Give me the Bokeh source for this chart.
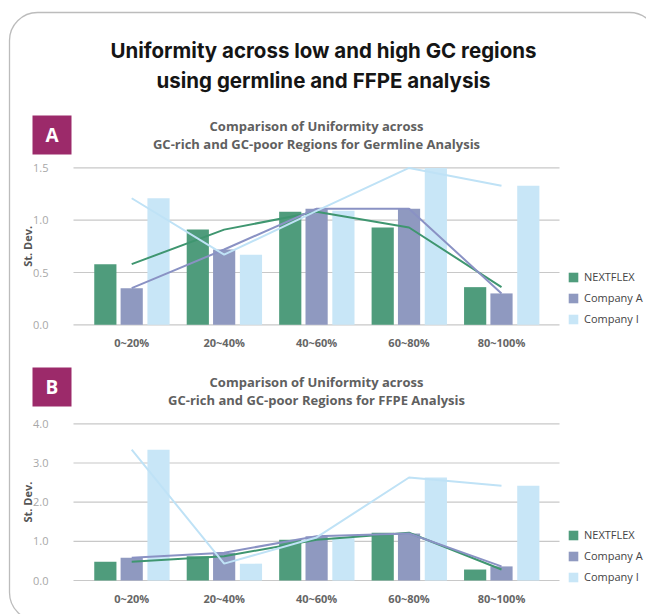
from bokeh.plotting import figure
from bokeh.models import (Range1d, LinearAxis, FixedTicker, Legend, LegendItem,
                          BoxAnnotation, NumeralTickFormatter)
from bokeh.core.properties import value
from bokeh.embed import file_html
from bokeh.resources import INLINE
import math

# ---------------- data ----------------
categories = ["0~20%", "20~40%", "40~60%", "60~80%", "80~100%"]
series_names = ["NEXTFLEX", "Company A", "Company I"]

germ_nextflex = [0.58, 0.91, 1.08, 0.93, 0.36]
germ_company_a = [0.35, 0.72, 1.11, 1.11, 0.30]
germ_company_i = [1.21, 0.67, 1.09, 1.50, 1.33]

ffpe_nextflex = [0.48, 0.62, 1.04, 1.22, 0.28]
ffpe_company_a = [0.58, 0.71, 1.13, 1.20, 0.36]
ffpe_company_i = [3.34, 0.43, 1.10, 2.63, 2.42]

germ_ticks = [0.0, 0.5, 1.0, 1.5]
ffpe_ticks = [0.0, 1.0, 2.0, 3.0, 4.0]

main_title = ["Uniformity across low and high GC regions",
              "using germline and FFPE analysis"]
sub_a = ["Comparison of Uniformity across",
         "GC-rich and GC-poor Regions for Germline Analysis"]
sub_b = ["Comparison of Uniformity across",
         "GC-rich and GC-poor Regions for FFPE Analysis"]
y_title = "St. Dev."

# ---------------- styles / layout ----------------
W, H = 646, 614
BAR_COLORS = ["#4f9c7c", "#8f99c0", "#c8e6f7"]
LINE_COLORS = ["#3f9670", "#8a92c4", "#bfe2f6"]
MAGENTA = "#9c2a6a"
FONT = "Open Sans"

CAT0, STEP = 131.2, 92.45          # px of first category centre, px per category
A_ZERO, A_UNIT = 324.3, 104.6      # chart A: px of 0, px per unit
B_ZERO, B_UNIT = 580.0, 39.17      # chart B
GRID_L, GRID_R = 73.0, 559.0
OFFSETS = [-0.285, 0.0, 0.29]
BAR_W = 0.24

p = figure(width=W, height=H, output_backend="svg", toolbar_location=None,
           x_range=Range1d(0, W), y_range=Range1d(0, H),
           x_axis_type=None, y_axis_type=None, min_border=0,
           outline_line_color=None, background_fill_color="white",
           border_fill_color="white")

p.extra_x_ranges = {"cx": Range1d(-CAT0 / STEP, (W - CAT0) / STEP)}
p.extra_y_ranges = {
    "ya": Range1d(-(H - A_ZERO) / A_UNIT, A_ZERO / A_UNIT),
    "yb": Range1d(-(H - B_ZERO) / B_UNIT, B_ZERO / B_UNIT),
}

def Y(px):
    return H - px

# card border
card = BoxAnnotation(left=9, right=657, top=Y(12), bottom=Y(620),
                     fill_alpha=0, line_color="#222222", line_width=1.3,
                     border_radius=28)
p.add_layout(card)

# main title
p.text(x=[323, 323], y=[Y(50), Y(80)], text=main_title,
       text_align="center", text_baseline="middle",
       text_font=value("Inter"), text_font_size="20.5px",
       text_font_style="bold", text_color="#151515")


def chart(yname, unit, zero_px, ticks, vals, subtitle, label, box_top, sub_y, leg_y):
    # panel label
    p.quad(left=[32], right=[71], top=[Y(box_top)], bottom=[Y(box_top + 39)],
           fill_color=MAGENTA, line_color=None)
    p.text(x=[51.5], y=[Y(box_top + 19.5)], text=[label], text_align="center",
           text_baseline="middle", text_font=value(FONT), text_font_size="19px",
           text_font_style="bold", text_color="white")
    # subtitle
    p.text(x=[316, 316], y=[Y(sub_y), Y(sub_y + 18)], text=subtitle,
           text_align="center", text_baseline="middle", text_font=value(FONT),
           text_font_size="13px", text_font_style="bold", text_color="#606060")
    # grid
    gl = (GRID_L - CAT0) / STEP
    gr = (GRID_R - CAT0) / STEP
    p.segment(x0=[gl] * len(ticks), x1=[gr] * len(ticks), y0=ticks, y1=ticks,
              x_range_name="cx", y_range_name=yname,
              line_color="#c8c8c8", line_width=1.2)
    # y axis
    ya = LinearAxis(y_range_name=yname, fixed_location=54,
                    ticker=FixedTicker(ticks=ticks),
                    formatter=NumeralTickFormatter(format="0.0"),
                    axis_line_color=None, major_tick_line_color=None,
                    minor_tick_line_color=None, major_tick_out=0,
                    major_tick_in=0, major_label_standoff=6,
                    major_label_text_font=FONT,
                    major_label_text_font_size="11px",
                    major_label_text_color="#a8a8a8")
    p.add_layout(ya, "left")
    # x axis
    xa = LinearAxis(x_range_name="cx", fixed_location=Y(zero_px),
                    ticker=FixedTicker(ticks=list(range(len(categories)))),
                    major_label_overrides={i: c for i, c in enumerate(categories)},
                    axis_line_color=None, major_tick_line_color=None,
                    minor_tick_line_color=None, major_tick_out=0,
                    major_tick_in=0, major_label_standoff=10,
                    major_label_text_font=FONT,
                    major_label_text_font_size="11px",
                    major_label_text_font_style="bold",
                    major_label_text_color="#666666")
    p.add_layout(xa, "below")
    # y title
    mid = zero_px - (ticks[-1] - ticks[0]) * unit / 2
    p.text(x=[27], y=[Y(mid)], text=[y_title], angle=math.pi / 2,
           text_align="center", text_baseline="middle", text_font=value(FONT),
           text_font_size="11px", text_font_style="bold", text_color="#555555")
    # bars
    idx = list(range(len(categories)))
    rs = []
    for k, v in enumerate(vals):
        r = p.vbar(x=[i + OFFSETS[k] for i in idx], top=v, bottom=0, width=BAR_W,
                   x_range_name="cx", y_range_name=yname,
                   fill_color=BAR_COLORS[k], line_color=None)
        rs.append(r)
    for k, v in enumerate(vals):
        p.line(x=idx, y=v, x_range_name="cx", y_range_name=yname,
               line_color=LINE_COLORS[k], line_width=2)
    leg = Legend(items=[LegendItem(label=s, renderers=[rs[k]])
                        for k, s in enumerate(series_names)],
                 location=(567, Y(leg_y)), orientation="vertical",
                 padding=0, margin=0, spacing=6, glyph_width=12, glyph_height=12,
                 label_height=12, label_standoff=5,
                 label_text_font=FONT, label_text_font_size="11px",
                 label_text_color="#444444",
                 background_fill_alpha=0, border_line_color=None)
    p.add_layout(leg)


chart("ya", A_UNIT, A_ZERO, germ_ticks,
      [germ_nextflex, germ_company_a, germ_company_i],
      sub_a, "A", 115, 125, 326)
chart("yb", B_UNIT, B_ZERO, ffpe_ticks,
      [ffpe_nextflex, ffpe_company_a, ffpe_company_i],
      sub_b, "B", 367, 381, 584)

open("out.html", "w").write(file_html(p, INLINE))
